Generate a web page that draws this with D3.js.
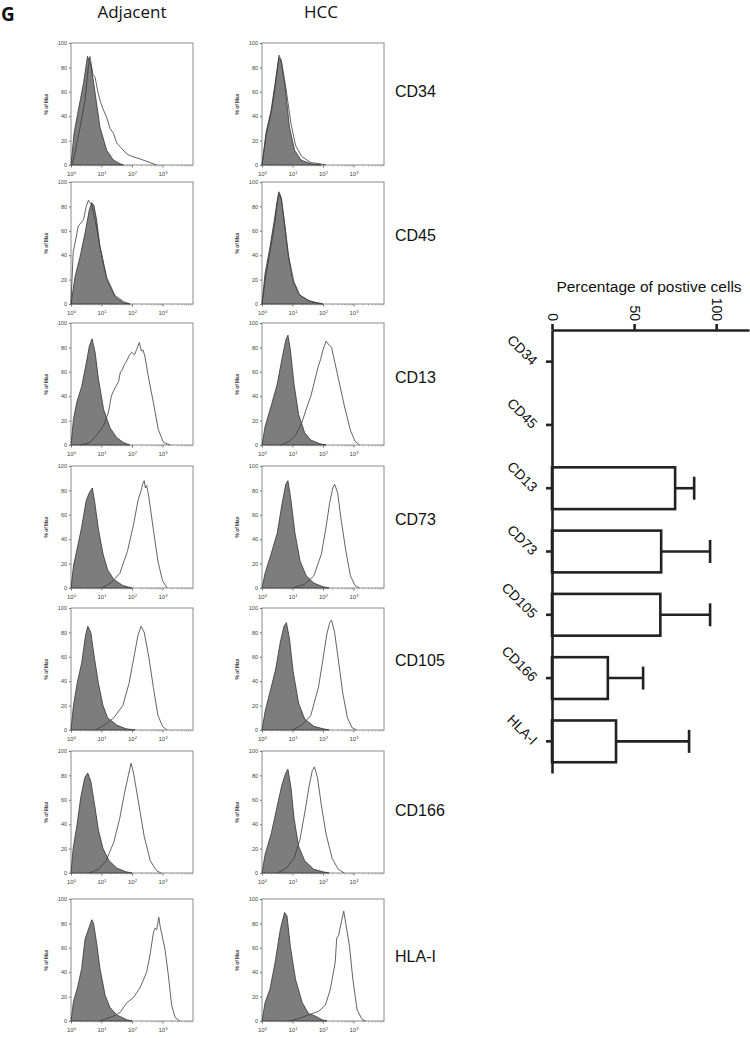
<!DOCTYPE html>
<html><head><meta charset="utf-8">
<script src="https://cdn.jsdelivr.net/npm/d3@7"></script>
<style>body{margin:0;background:#fff}svg{display:block}</style>
</head><body>
<svg id="fig" width="750" height="1038"></svg>
<script>
// ---------------- DATA ----------------
const panelLetter = "G";
const columnLabels = ["Adjacent", "HCC"];
const markers = ["CD34", "CD45", "CD13", "CD73", "CD105", "CD166", "HLA-I"];
const yTickValues = [0, 20, 40, 60, 80, 100];
const xTickExponents = [0, 1, 2, 3];
const yAxisLabel = "% of Max";

// Histograms: [log10 fluorescence, % of max]
const adjCD34Iso = [[0,0],[0.1,26],[0.24,45],[0.41,67],[0.54,89],[0.65,83],[0.79,59],[0.95,31],[1.17,12],[1.39,4],[1.61,1],[1.72,0]];
const adjCD34Stain = [[0.02,0],[0.08,4],[0.3,31],[0.46,53],[0.57,81],[0.62,89],[0.72,74],[0.79,72],[0.88,60],[0.95,53],[1.05,46],[1.17,39],[1.28,30],[1.39,26],[1.5,18],[1.61,15],[1.83,9],[2.0,7],[2.26,5],[2.59,2],[2.81,0]];
const hccCD34Iso = [[0,0],[0.13,26],[0.3,45],[0.43,67],[0.55,88],[0.62,86],[0.76,64],[0.9,31],[1.07,12],[1.28,4],[1.61,1],[1.94,0]];
const hccCD34Stain = [[0,0],[0.14,25],[0.31,44],[0.44,66],[0.56,90],[0.64,85],[0.79,62],[0.95,34],[1.1,16],[1.3,7],[1.6,2],[1.9,1],[2.1,0]];

const adjCD45Iso = [[0,0],[0.13,22],[0.3,39],[0.46,58],[0.6,77],[0.68,83],[0.75,81],[0.84,69],[0.95,47],[1.17,20],[1.44,6],[1.72,1],[1.93,0]];
const adjCD45Stain = [[0,0],[0.07,42],[0.24,64],[0.41,69],[0.5,80],[0.57,85],[0.68,81],[0.79,69],[0.95,47],[1.17,22],[1.44,7],[1.72,2],[1.93,0]];
const hccCD45Iso = [[0,0],[0.1,25],[0.25,45],[0.4,68],[0.5,85],[0.55,92],[0.62,88],[0.72,70],[0.85,42],[1.0,20],[1.2,8],[1.5,3],[1.8,1],[2.0,0]];
const hccCD45Stain = [[0,0],[0.12,22],[0.27,44],[0.42,66],[0.52,86],[0.57,90],[0.64,86],[0.74,66],[0.88,38],[1.05,18],[1.25,7],[1.6,2],[2.0,0]];

const adjCD13Iso = [[0,0],[0.08,21],[0.19,35],[0.35,48],[0.5,67],[0.6,81],[0.69,87],[0.79,76],[0.9,54],[1.07,29],[1.28,14],[1.5,6],[1.72,2],[1.93,0]];
const adjCD13Stain = [[0.3,0],[0.62,2],[0.84,8],[1.07,16],[1.23,27],[1.32,40],[1.39,44],[1.47,48],[1.56,52],[1.62,60],[1.67,61],[1.75,66],[1.83,69],[1.9,73],[1.99,76],[2.08,74],[2.15,78],[2.24,84],[2.31,77],[2.36,78],[2.42,73],[2.53,57],[2.62,45],[2.7,35],[2.86,13],[3.03,2],[3.25,0]];
const hccCD13Iso = [[0,0],[0.1,15],[0.3,32],[0.5,50],[0.65,70],[0.78,86],[0.85,90],[0.93,78],[1.05,50],[1.2,25],[1.4,10],[1.6,4],[1.9,1],[2.1,0]];
const hccCD13Stain = [[0.6,0],[0.9,3],[1.1,8],[1.3,18],[1.5,33],[1.6,40],[1.7,50],[1.78,58],[1.85,65],[1.92,70],[2.0,78],[2.1,85],[2.2,82],[2.28,80],[2.35,72],[2.5,55],[2.7,32],[2.9,12],[3.05,3],[3.2,0]];

const adjCD73Iso = [[0,0],[0.08,18],[0.2,32],[0.35,50],[0.5,72],[0.6,78],[0.7,82],[0.78,70],[0.9,48],[1.05,28],[1.2,15],[1.4,7],[1.7,2],[2.0,0]];
const adjCD73Stain = [[1.0,0],[1.3,4],[1.6,12],[1.85,30],[2.05,52],[2.2,72],[2.3,80],[2.36,86],[2.4,88],[2.44,82],[2.48,84],[2.55,75],[2.7,48],[2.85,22],[3.0,6],[3.15,0]];
const hccCD73Iso = [[0,0],[0.1,12],[0.3,28],[0.5,45],[0.65,68],[0.78,85],[0.85,88],[0.95,72],[1.08,45],[1.25,22],[1.45,10],[1.7,4],[2.0,1],[2.2,0]];
const hccCD73Stain = [[1.0,0],[1.4,3],[1.7,10],[1.95,28],[2.1,50],[2.22,70],[2.32,82],[2.38,85],[2.48,78],[2.6,55],[2.75,30],[2.9,10],[3.05,2],[3.2,0]];

const adjCD105Iso = [[0,0],[0.08,20],[0.2,38],[0.35,55],[0.48,78],[0.55,85],[0.65,80],[0.75,62],[0.9,38],[1.05,20],[1.2,10],[1.5,4],[1.8,1],[2.1,0]];
const adjCD105Stain = [[0.8,0],[1.1,4],[1.4,10],[1.7,20],[1.9,38],[2.05,58],[2.2,78],[2.3,85],[2.4,80],[2.55,60],[2.7,35],[2.85,12],[3.0,3],[3.15,0]];
const hccCD105Iso = [[0,0],[0.1,15],[0.25,30],[0.45,50],[0.6,72],[0.72,85],[0.8,88],[0.9,75],[1.02,48],[1.2,22],[1.4,9],[1.7,3],[2.0,1],[2.2,0]];
const hccCD105Stain = [[1.0,0],[1.3,4],[1.6,12],[1.85,35],[2.0,58],[2.12,78],[2.22,88],[2.28,90],[2.38,80],[2.5,58],[2.65,30],[2.8,10],[2.95,2],[3.1,0]];

const adjCD166Iso = [[0,0],[0.07,20],[0.2,40],[0.32,62],[0.45,78],[0.55,82],[0.65,75],[0.78,55],[0.9,35],[1.05,20],[1.25,10],[1.5,4],[1.8,1],[2.0,0]];
const adjCD166Stain = [[0.6,0],[0.9,3],[1.15,10],[1.4,25],[1.6,45],[1.75,65],[1.88,80],[1.97,90],[2.05,82],[2.2,60],[2.4,30],[2.6,10],[2.8,2],[2.95,0]];
const hccCD166Iso = [[0,0],[0.1,15],[0.3,32],[0.5,55],[0.65,72],[0.78,82],[0.85,85],[0.95,70],[1.05,45],[1.2,22],[1.4,10],[1.7,3],[2.0,1],[2.2,0]];
const hccCD166Stain = [[0.5,0],[0.8,4],[1.05,12],[1.25,28],[1.42,52],[1.55,72],[1.65,84],[1.72,87],[1.82,78],[1.95,55],[2.1,32],[2.3,12],[2.5,3],[2.7,0]];

const adjHLAIso = [[0,0],[0.08,16],[0.21,27],[0.35,43],[0.46,67],[0.57,75],[0.68,83],[0.74,80],[0.84,64],[0.95,43],[1.12,21],[1.28,11],[1.5,5],[1.83,1],[2.0,0]];
const adjHLAStain = [[0.95,0],[1.39,4],[1.61,7],[1.83,15],[2.04,19],[2.26,27],[2.48,40],[2.59,54],[2.7,72],[2.75,76],[2.81,75],[2.88,85],[2.92,78],[2.97,72],[3.08,59],[3.19,38],[3.3,13],[3.41,3],[3.57,0]];
const hccHLAIso = [[0,0],[0.1,15],[0.26,26],[0.43,48],[0.6,75],[0.74,89],[0.82,86],[0.93,61],[1.1,34],[1.32,15],[1.53,6],[1.75,4],[1.97,1],[2.13,0]];
const hccHLAStain = [[0.9,0],[1.2,2],[1.53,5],[1.86,8],[2.08,13],[2.24,26],[2.4,48],[2.45,68],[2.51,70],[2.6,81],[2.68,90],[2.76,78],[2.87,61],[2.98,34],[3.12,9],[3.29,1],[3.4,0]];

// Bar chart
const barTitle = "Percentage of postive cells";
const barCategories = ["CD34", "CD45", "CD13", "CD73", "CD105", "CD166", "HLA-I"];
const barMeans = [0, 0, 75, 66.5, 66, 34, 39];
const barSD = [0, 0, 11.6, 29.8, 30.3, 21.5, 44.5];
const barTicks = [0, 50, 100];

// -------------- LAYOUT --------------
const histos = [
  [adjCD34Iso, adjCD34Stain, hccCD34Iso, hccCD34Stain],
  [adjCD45Iso, adjCD45Stain, hccCD45Iso, hccCD45Stain],
  [adjCD13Iso, adjCD13Stain, hccCD13Iso, hccCD13Stain],
  [adjCD73Iso, adjCD73Stain, hccCD73Iso, hccCD73Stain],
  [adjCD105Iso, adjCD105Stain, hccCD105Iso, hccCD105Stain],
  [adjCD166Iso, adjCD166Stain, hccCD166Iso, hccCD166Stain],
  [adjHLAIso, adjHLAStain, hccHLAIso, hccHLAStain]
];
const colX = [71, 262];
const rowTop = [43, 182, 323, 466, 608, 751, 899];
const labelOffset = [50, 55, 56, 55, 54, 61, 59];
const PW = 122, PH = 122;

const svg = d3.select("#fig");
const sansH = "'Open Sans','Noto Sans',sans-serif";
const arial = "'Liberation Sans',Arial,sans-serif";

svg.append("text").attr("x", 1).attr("y", 21).text(panelLetter)
  .attr("font-family", sansH).attr("font-weight", "bold").attr("font-size", 19).attr("fill", "#111");
const colCenters = [132, 321];
columnLabels.forEach((c, i) => svg.append("text").attr("x", colCenters[i]).attr("y", 18)
  .attr("text-anchor", "middle").attr("font-family", sansH).attr("font-size", 17).attr("fill", "#111").text(c));

const minorTicks = [];
for (let e = 0; e < 4; e++) for (let m = 2; m <= 9; m++) minorTicks.push(m * Math.pow(10, e));

markers.forEach((mk, r) => {
  [0, 1].forEach(c => {
    const x0 = colX[c], y0 = rowTop[r];
    const xs = d3.scaleLog().domain([1, 1e4]).range([x0, x0 + PW]);
    const ys = d3.scaleLinear().domain([0, 100]).range([y0 + PH, y0]);
    const g = svg.append("g");
    g.append("rect").attr("x", x0).attr("y", y0).attr("width", PW).attr("height", PH)
      .attr("fill", "#fff").attr("stroke", "#8c8c8c").attr("stroke-width", 1);
    const iso = histos[r][c * 2], stain = histos[r][c * 2 + 1];
    const area = d3.area().x(d => xs(Math.pow(10, d[0]))).y0(ys(0)).y1(d => ys(d[1]));
    const line = d3.line().x(d => xs(Math.pow(10, d[0]))).y(d => ys(d[1]));
    g.append("path").attr("d", area(iso)).attr("fill", "#7d7d7d").attr("stroke", "#333").attr("stroke-width", 0.8);
    g.append("path").attr("d", line(stain)).attr("fill", "none").attr("stroke", "#3c3c3c").attr("stroke-width", 0.8);
    // y axis
    const ya = g.append("g").attr("transform", `translate(${x0},0)`)
      .call(d3.axisLeft(ys).tickValues(yTickValues).tickSize(2).tickPadding(2));
    ya.select(".domain").remove();
    ya.selectAll("line").attr("stroke", "#777");
    ya.selectAll("text").attr("font-family", arial).attr("font-size", 5.5).attr("fill", "#444");
    // x axis
    const xa = g.append("g").attr("transform", `translate(0,${y0 + PH})`)
      .call(d3.axisBottom(xs).tickValues(xTickExponents.map(e => Math.pow(10, e))).tickSize(2.5).tickPadding(4)
        .tickFormat(() => "10"));
    xa.select(".domain").remove();
    xa.selectAll("line").attr("stroke", "#777");
    xa.selectAll("text").attr("font-family", arial).attr("font-size", 6).attr("fill", "#444")
      .each(function(d, i) {
        d3.select(this).append("tspan").attr("dy", "-0.45em").attr("font-size", 4.2).text(String(xTickExponents[i]));
      });
    const xm = g.append("g").attr("transform", `translate(0,${y0 + PH})`)
      .call(d3.axisBottom(xs).tickValues(minorTicks).tickSize(1.5).tickFormat(""));
    xm.select(".domain").remove();
    xm.selectAll("line").attr("stroke", "#888").attr("stroke-width", 0.6);
    // y label
    g.append("text").attr("transform", `translate(${x0 - 23},${y0 + PH / 2}) rotate(-90)`)
      .attr("text-anchor", "middle").attr("font-family", arial).attr("font-weight", "bold")
      .attr("font-size", 4.8).attr("fill", "#333").text(yAxisLabel);
  });
  svg.append("text").attr("x", 395).attr("y", rowTop[r] + labelOffset[r]).attr("dominant-baseline", "middle")
    .attr("font-family", arial).attr("font-size", 16).attr("fill", "#111").text(mk);
});

// ---------------- BAR CHART ----------------
const bx = d3.scaleLinear().domain([0, 120]).range([552, 749]);
const by = d3.scaleBand().domain(barCategories).range([330, 773]);
const bstep = by.step();
const bg = svg.append("g");
bg.append("text").attr("x", 649).attr("y", 292).attr("text-anchor", "middle")
  .attr("font-family", arial).attr("font-size", 15.5).attr("fill", "#111").text(barTitle);

const bars = barCategories.map((c, i) => ({c, m: barMeans[i], sd: barSD[i]}));
bars.filter(d => d.m > 0).forEach(d => {
  const yc = by(d.c) + bstep / 2;
  const top = by(d.c) + bstep * 0.17, h = bstep * 0.66;
  bg.append("rect").attr("x", bx(0)).attr("y", top).attr("width", bx(d.m) - bx(0)).attr("height", h)
    .attr("fill", "#fff").attr("stroke", "#222").attr("stroke-width", 2.6);
  bg.append("line").attr("x1", bx(d.m)).attr("x2", bx(d.m + d.sd)).attr("y1", yc).attr("y2", yc)
    .attr("stroke", "#222").attr("stroke-width", 2.6);
  bg.append("line").attr("x1", bx(d.m + d.sd)).attr("x2", bx(d.m + d.sd)).attr("y1", yc - 11.5).attr("y2", yc + 11.5)
    .attr("stroke", "#222").attr("stroke-width", 2.6);
});

const topAx = bg.append("g").attr("transform", "translate(0,330)")
  .call(d3.axisTop(bx).tickValues(barTicks).tickSize(6).tickSizeOuter(0));
topAx.select(".domain").attr("stroke", "#222").attr("stroke-width", 2.6);
topAx.selectAll(".tick line").attr("stroke", "#222").attr("stroke-width", 2.6);
topAx.selectAll("text").attr("font-family", arial).attr("font-size", 14).attr("fill", "#111")
  .attr("text-anchor", "end").attr("dy", "0.35em")
  .attr("transform", "translate(0,-9) rotate(90)").attr("y", 0).attr("x", 0);

const leftAx = bg.append("g").attr("transform", "translate(552,0)")
  .call(d3.axisLeft(by).tickSize(6).tickSizeOuter(0));
leftAx.select(".domain").attr("stroke", "#222").attr("stroke-width", 2.6);
leftAx.selectAll(".tick line").attr("stroke", "#222").attr("stroke-width", 2.6);
leftAx.selectAll("text").attr("font-family", arial).attr("font-size", 14).attr("fill", "#111")
  .attr("text-anchor", "end").attr("dy", "0.35em")
  .attr("transform", "translate(-17,1) rotate(45)").attr("x", 0).attr("y", 0);
</script>
</body></html>
